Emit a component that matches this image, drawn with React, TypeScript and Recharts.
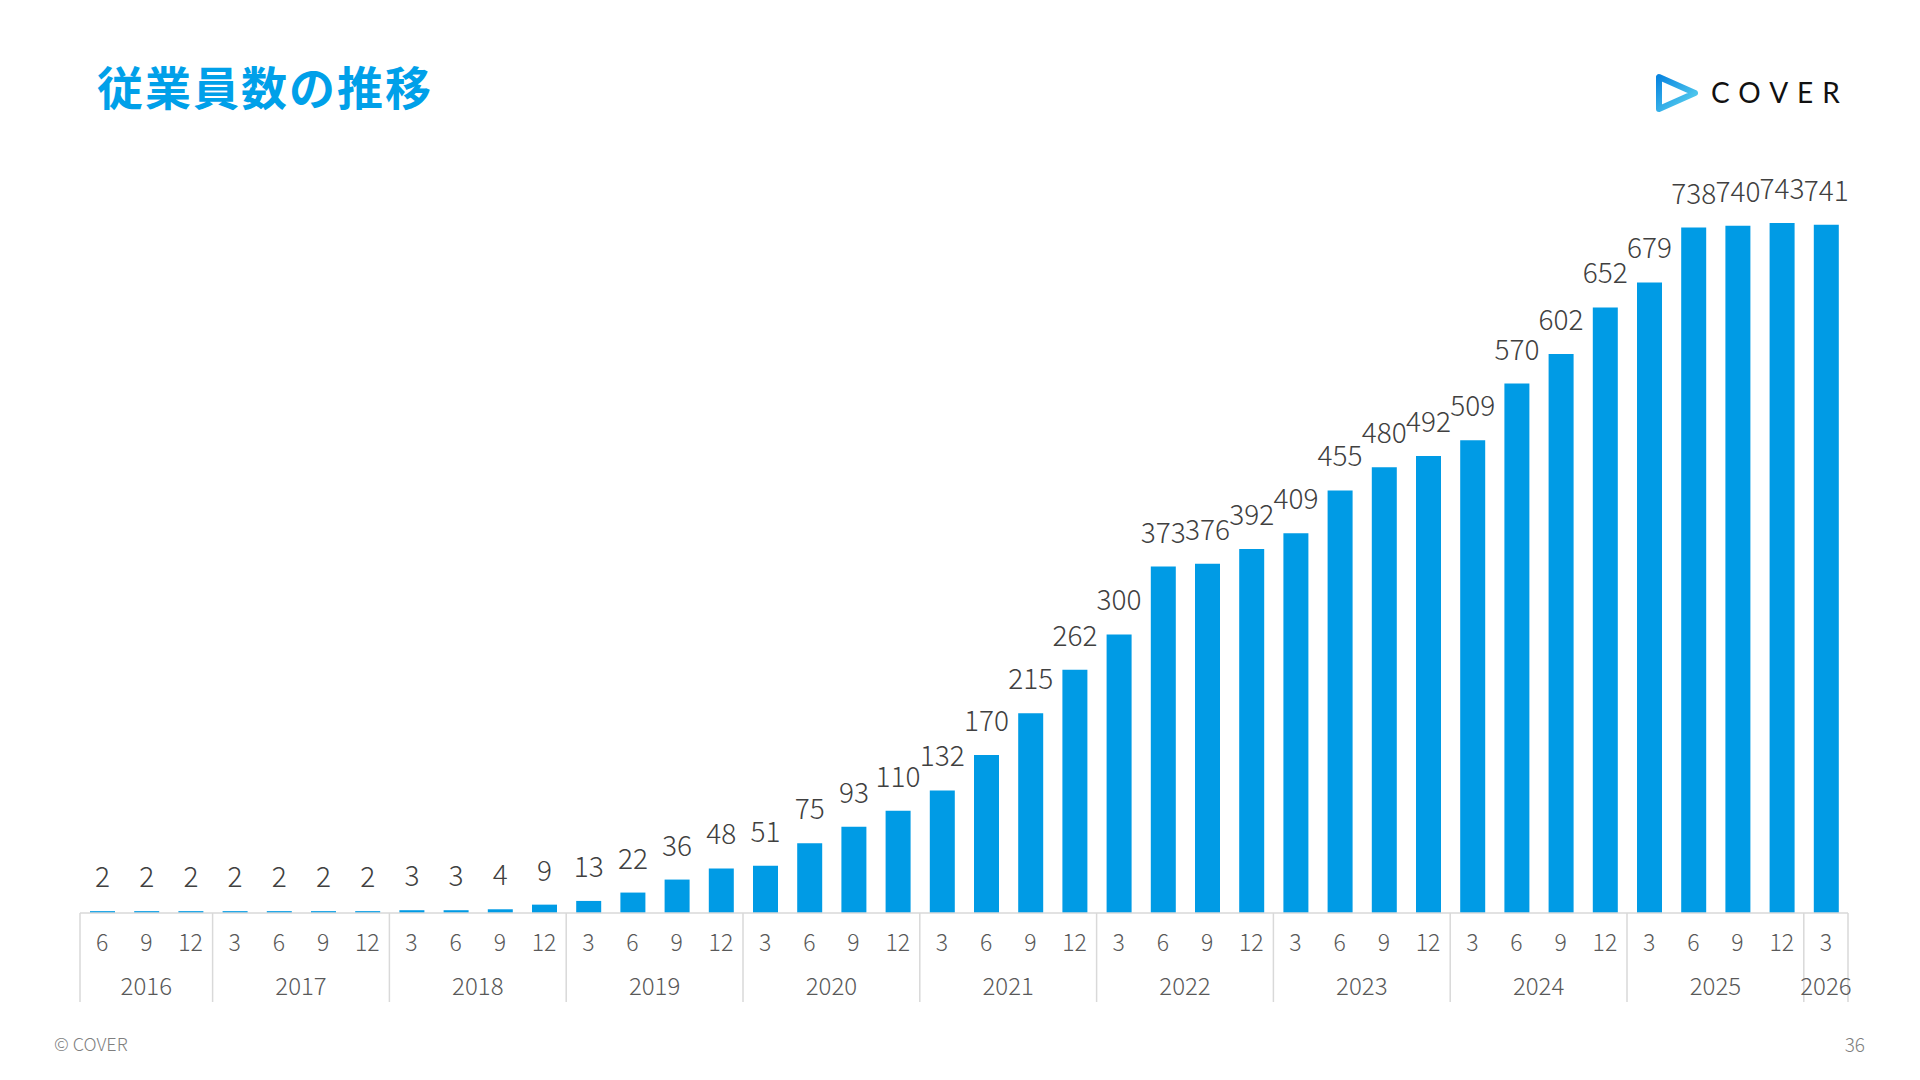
import { Bar, BarChart, LabelList, XAxis, YAxis } from 'recharts';

// 従業員数（四半期末）
const periodYears = [
  '2016', '2016', '2016',
  '2017', '2017', '2017', '2017',
  '2018', '2018', '2018', '2018',
  '2019', '2019', '2019', '2019',
  '2020', '2020', '2020', '2020',
  '2021', '2021', '2021', '2021',
  '2022', '2022', '2022', '2022',
  '2023', '2023', '2023', '2023',
  '2024', '2024', '2024', '2024',
  '2025', '2025', '2025', '2025',
  '2026',
];
const periodMonths = [
  '6', '9', '12',
  '3', '6', '9', '12',
  '3', '6', '9', '12',
  '3', '6', '9', '12',
  '3', '6', '9', '12',
  '3', '6', '9', '12',
  '3', '6', '9', '12',
  '3', '6', '9', '12',
  '3', '6', '9', '12',
  '3', '6', '9', '12',
  '3',
];
const employees = [
  2, 2, 2,
  2, 2, 2, 2,
  3, 3, 4, 9,
  13, 22, 36, 48,
  51, 75, 93, 110,
  132, 170, 215, 262,
  300, 373, 376, 392,
  409, 455, 480, 492,
  509, 570, 602, 652,
  679, 738, 740, 743,
  741,
];

const data = employees.map((value, i) => ({
  period: `${periodYears[i]}-${periodMonths[i]}`,
  month: periodMonths[i],
  year: periodYears[i],
  employees: value,
}));

const CHART_W = 1920;
const CHART_H = 1080;
const MARGIN = { top: 170, right: 72, bottom: 77, left: 80 };
const MONTH_AXIS_H = 50;
const YEAR_AXIS_H = 40;
const BAND = (CHART_W - MARGIN.left - MARGIN.right) / data.length;

const BLUE = '#009be5';
const GRID = '#d9d9d9';
const NUM_FONT = "'Noto Sans CJK JP', sans-serif";

const MonthTick = (props: any) => {
  const { x, y, payload } = props;
  return (
    <text
      x={x}
      y={y + 28}
      textAnchor="middle"
      dominantBaseline="central"
      fill="#595959"
      fontSize={23}
      fontWeight={300}
      fontFamily={NUM_FONT}
    >
      {payload.value}
    </text>
  );
};

const YearTick = (props: any) => {
  const { x, y } = props;
  const index = props.index ?? props.payload.index;
  const year = periodYears[index];
  const first = periodYears.indexOf(year);
  const last = periodYears.lastIndexOf(year);
  const top = y - MONTH_AXIS_H;
  const bottom = y + YEAR_AXIS_H - 1;

  return (
    <g>
      {index === first ? (
        <line x1={x - BAND / 2} x2={x - BAND / 2} y1={top} y2={bottom} stroke={GRID} strokeWidth={1.5} />
      ) : null}
      {index === periodYears.length - 1 ? (
        <line x1={x + BAND / 2} x2={x + BAND / 2} y1={top} y2={bottom} stroke={GRID} strokeWidth={1.5} />
      ) : null}
      {index === first ? (
        <text
          x={x + ((last - first) / 2) * BAND}
          y={y + 21}
          textAnchor="middle"
          dominantBaseline="central"
          fill="#595959"
          fontSize={24}
          fontWeight={300}
          fontFamily={NUM_FONT}
        >
          {year}
        </text>
      ) : null}
    </g>
  );
};

const CoverLogo = () => (
  <svg width={200} height={50} style={{ position: 'absolute', left: 1650, top: 68 }}>
    <defs>
      <linearGradient id="coverGrad" x1="0" y1="0" x2="1" y2="1">
        <stop offset="0%" stopColor="#0a86e0" />
        <stop offset="100%" stopColor="#5fd6f0" />
      </linearGradient>
    </defs>
    <path
      d="M 9 9 L 9 41 L 45 25 Z"
      fill="none"
      stroke="url(#coverGrad)"
      strokeWidth={6}
      strokeLinejoin="round"
    />
    <text
      x={61}
      y={35}
      fontSize={28}
      fontFamily="Lato, 'Noto Sans', sans-serif"
      letterSpacing={9}
      fill="#111111"
    >
      COVER
    </text>
  </svg>
);

const App = () => {
  return (
    <div
      style={{
        position: 'absolute',
        left: 0,
        top: 0,
        width: CHART_W,
        height: CHART_H,
        background: '#ffffff',
        overflow: 'hidden',
      }}
    >
      <div
        style={{
          position: 'absolute',
          left: 97,
          top: 62,
          fontFamily: "'Noto Sans CJK JP', sans-serif",
          fontWeight: 700,
          fontSize: 46,
          lineHeight: 1,
          color: '#00a0e9',
          letterSpacing: 2,
        }}
      >
        従業員数の推移
      </div>

      <CoverLogo />

      <div style={{ position: 'absolute', left: 0, top: 0 }}>
        <BarChart width={CHART_W} height={CHART_H} data={data} margin={MARGIN}>
          <XAxis
            dataKey="month"
            height={MONTH_AXIS_H}
            interval={0}
            tickLine={false}
            tickSize={0}
            tickMargin={0}
            axisLine={{ stroke: GRID, strokeWidth: 1.5 }}
            tick={<MonthTick />}
          />
          <XAxis
            xAxisId="year"
            dataKey="year"
            height={YEAR_AXIS_H}
            interval={0}
            tickLine={false}
            tickSize={0}
            tickMargin={0}
            axisLine={false}
            tick={<YearTick />}
          />
          <YAxis hide domain={[0, 800]} />
          <Bar dataKey="employees" fill={BLUE} barSize={25} isAnimationActive={false}>
            <LabelList
              dataKey="employees"
              position="top"
              offset={24}
              fill="#404040"
              fontSize={28}
              fontWeight={300}
              fontFamily={NUM_FONT}
            />
          </Bar>
        </BarChart>
      </div>

      <div
        style={{
          position: 'absolute',
          left: 54,
          top: 1030,
          fontFamily: NUM_FONT,
          fontWeight: 300,
          fontSize: 18,
          color: '#7f7f7f',
        }}
      >
        © COVER
      </div>
      <div
        style={{
          position: 'absolute',
          right: 55,
          top: 1030,
          fontFamily: NUM_FONT,
          fontWeight: 300,
          fontSize: 19,
          color: '#7f7f7f',
        }}
      >
        36
      </div>
    </div>
  );
};

export default App;
